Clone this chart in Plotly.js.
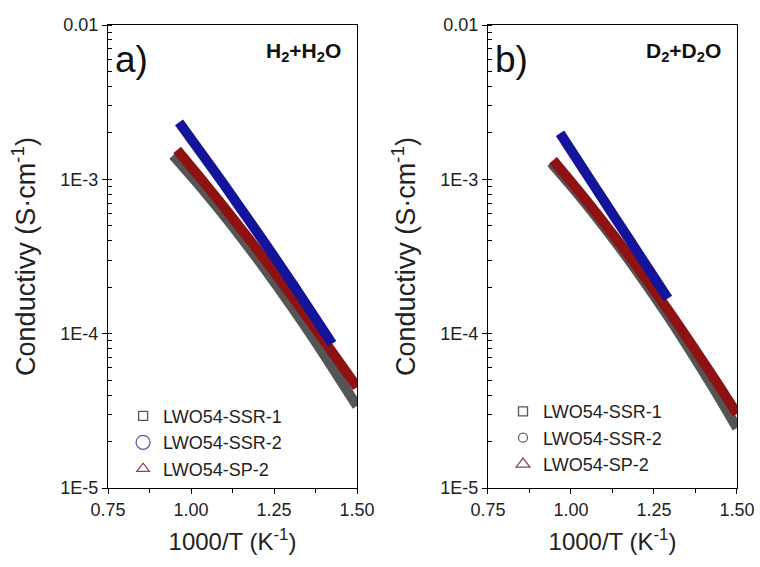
<!DOCTYPE html>
<html>
<head>
<meta charset="utf-8">
<script src="https://cdn.plot.ly/plotly-3.0.1.min.js"></script>
<style>html,body{margin:0;padding:0;background:#fff;}#chart{width:760px;height:567px;}</style>
</head>
<body>
<div id="chart"></div>
<script>
// ---- Data (x = 1000/T in K^-1, y = conductivity in S/cm) ----
const seriesNames = ["LWO54-SSR-1", "LWO54-SSR-2", "LWO54-SP-2"];

// Panel a) H2 + H2O
const a_ssr1_x = [0.946, 1.02, 1.09, 1.163, 1.23, 1.30, 1.37, 1.44, 1.50];
const a_ssr1_y = [1.43e-3, 9.4e-4, 6.17e-4, 3.89e-4, 2.49e-4, 1.53e-4, 9.2e-5, 5.4e-5, 3.4e-5];
const a_ssr2_x = [0.964, 1.03, 1.10, 1.17, 1.24, 1.31, 1.37, 1.425];
const a_ssr2_y = [2.34e-3, 1.49e-3, 9.2e-4, 5.6e-4, 3.4e-4, 2.04e-4, 1.30e-4, 8.6e-5];
const a_sp2_x  = [0.958, 1.03, 1.10, 1.18, 1.25, 1.32, 1.39, 1.45, 1.50];
const a_sp2_y  = [1.55e-3, 1.01e-3, 6.57e-4, 3.97e-4, 2.52e-4, 1.57e-4, 9.7e-5, 6.4e-5, 4.5e-5];

// Panel b) D2 + D2O
const b_ssr1_x = [0.94, 1.02, 1.09, 1.163, 1.23, 1.30, 1.37, 1.44, 1.50];
const b_ssr1_y = [1.28e-3, 8.05e-4, 5.22e-4, 3.24e-4, 2.03e-4, 1.22e-4, 7.1e-5, 4.06e-5, 2.45e-5];
const b_ssr2_x = [0.967, 1.03, 1.09, 1.15, 1.208, 1.25, 1.292];
const b_ssr2_y = [1.99e-3, 1.23e-3, 7.8e-4, 4.95e-4, 3.19e-4, 2.32e-4, 1.69e-4];
const b_sp2_x  = [0.946, 1.02, 1.09, 1.163, 1.23, 1.30, 1.37, 1.44, 1.50];
const b_sp2_y  = [1.33e-3, 8.56e-4, 5.55e-4, 3.46e-4, 2.2e-4, 1.35e-4, 8.1e-5, 4.8e-5, 3.02e-5];

// Axis tick labels
const xTickVals = [0.75, 1.00, 1.25, 1.50];
const xTickText = ["0.75", "1.00", "1.25", "1.50"];
const xMinorVals = [0.875, 1.125, 1.375];
const yTickVals = [1e-5, 1e-4, 1e-3, 1e-2];
const yTickText = ["1E-5", "1E-4", "1E-3", "0.01"];

// ---- Styles ----
const cGray = "#555555", cBlue = "#14149a", cRed = "#8e1212";
const FONT = "Liberation Sans, Arial, sans-serif";

function band(x, y, color, xa, ya) {
  return {x: x, y: y, xaxis: xa, yaxis: ya, mode: "lines", type: "scatter",
          line: {color: color, width: 10, shape: "spline", smoothing: 0.8},
          showlegend: false, hoverinfo: "skip"};
}
function legendItem(name, symbol, color, size, legend) {
  return {x: [null], y: [null], mode: "markers", type: "scatter", name: name, legend: legend,
          marker: {symbol: symbol, size: size, color: color, line: {color: color, width: 1.3}}};
}

const traces = [
  band(a_ssr1_x, a_ssr1_y, cGray, "x", "y"),
  band(a_sp2_x,  a_sp2_y,  cRed,  "x", "y"),
  band(a_ssr2_x, a_ssr2_y, cBlue, "x", "y"),
  band(b_ssr1_x, b_ssr1_y, cGray, "x2", "y2"),
  band(b_sp2_x,  b_sp2_y,  cRed,  "x2", "y2"),
  band(b_ssr2_x, b_ssr2_y, cBlue, "x2", "y2"),
  legendItem(seriesNames[0], "square-open", "#555555", 9, "legend"),
  legendItem(seriesNames[1], "circle-open", "#5a5aaa", 14, "legend"),
  legendItem(seriesNames[2], "triangle-up-open", "#8a4a4a", 11, "legend"),
  legendItem(seriesNames[0], "square-open", "#555555", 9, "legend2"),
  legendItem(seriesNames[1], "circle-open", "#666666", 9, "legend2"),
  legendItem(seriesNames[2], "triangle-up-open", "#8a4a4a", 12, "legend2")
];

function xAxis(domain, anchor) {
  return {domain: domain, anchor: anchor, range: [0.75, 1.5], tickmode: "array",
          tickvals: xTickVals, ticktext: xTickText, ticks: "outside", ticklen: 5,
          tickcolor: "#000", showline: true, linecolor: "#000", linewidth: 1.2, mirror: true,
          showgrid: false, zeroline: false,
          minor: {tickvals: xMinorVals, ticks: "outside", ticklen: 4, tickcolor: "#000", showgrid: false},
          tickfont: {family: FONT, size: 18, color: "#222"},
          title: {text: "1000/T (K<sup>-1</sup>)", font: {family: FONT, size: 24, color: "#222"}, standoff: 14}};
}
function yAxis(anchor) {
  return {domain: [0, 1], anchor: anchor, type: "log", range: [-5, -2], tickmode: "array",
          tickvals: yTickVals, ticktext: yTickText, ticks: "outside", ticklen: 5,
          tickcolor: "#000", showline: true, linecolor: "#000", linewidth: 1.2, mirror: true,
          showgrid: false, zeroline: false,
          minor: {dtick: "D1", ticks: "inside", ticklen: 4, tickcolor: "#000", showgrid: false},
          tickfont: {family: FONT, size: 18, color: "#222"},
          title: {text: "Conductivy (S·cm<sup>-1</sup>)", font: {family: FONT, size: 27, color: "#222"}, standoff: 16}};
}
// right-hand frame axis with inward ticks and no labels
function yRight(overlay, anchor) {
  return {overlaying: overlay, anchor: anchor, side: "right", type: "log", range: [-5, -2],
          tickmode: "array", tickvals: yTickVals, ticks: "inside", ticklen: 6, tickcolor: "#000",
          showticklabels: false, showline: false, showgrid: false, zeroline: false,
          minor: {dtick: "D1", ticks: "inside", ticklen: 4, tickcolor: "#000", showgrid: false}};
}

const layout = {
  width: 760, height: 567,
  margin: {l: 108, r: 23, t: 25, b: 79},
  paper_bgcolor: "#fff", plot_bgcolor: "#fff",
  font: {family: FONT, color: "#222"},
  xaxis: xAxis([0, 0.3959], "y"),
  yaxis: yAxis("x"),
  xaxis2: xAxis([0.6041, 1], "y2"),
  yaxis2: yAxis("x2"),
  yaxis3: yRight("y", "x"),
  yaxis4: yRight("y2", "x2"),
  legend: {x: 0.024, y: 0.195, xanchor: "left", yanchor: "top", bgcolor: "rgba(0,0,0,0)",
           font: {family: FONT, size: 18, color: "#222"}, tracegroupgap: 0},
  legend2: {x: 0.628, y: 0.205, xanchor: "left", yanchor: "top", bgcolor: "rgba(0,0,0,0)",
            font: {family: FONT, size: 18, color: "#222"}, tracegroupgap: 0},
  annotations: [
    {xref: "x domain", yref: "y domain", x: 0.02, y: 0.975, xanchor: "left", yanchor: "top",
     text: "a)", showarrow: false, font: {family: FONT, size: 37, color: "#111"}},
    {xref: "x2 domain", yref: "y2 domain", x: 0.02, y: 0.975, xanchor: "left", yanchor: "top",
     text: "b)", showarrow: false, font: {family: FONT, size: 37, color: "#111"}},
    {xref: "x domain", yref: "y domain", x: 0.945, y: 0.975, xanchor: "right", yanchor: "top",
     text: "<b>H<sub>2</sub>+H<sub>2</sub>O</b>", showarrow: false, font: {family: FONT, size: 21, color: "#111"}},
    {xref: "x2 domain", yref: "y2 domain", x: 0.945, y: 0.975, xanchor: "right", yanchor: "top",
     text: "<b>D<sub>2</sub>+D<sub>2</sub>O</b>", showarrow: false, font: {family: FONT, size: 21, color: "#111"}}
  ]
};

Plotly.newPlot("chart", traces, layout, {displayModeBar: false, staticPlot: true});
</script>
</body>
</html>
